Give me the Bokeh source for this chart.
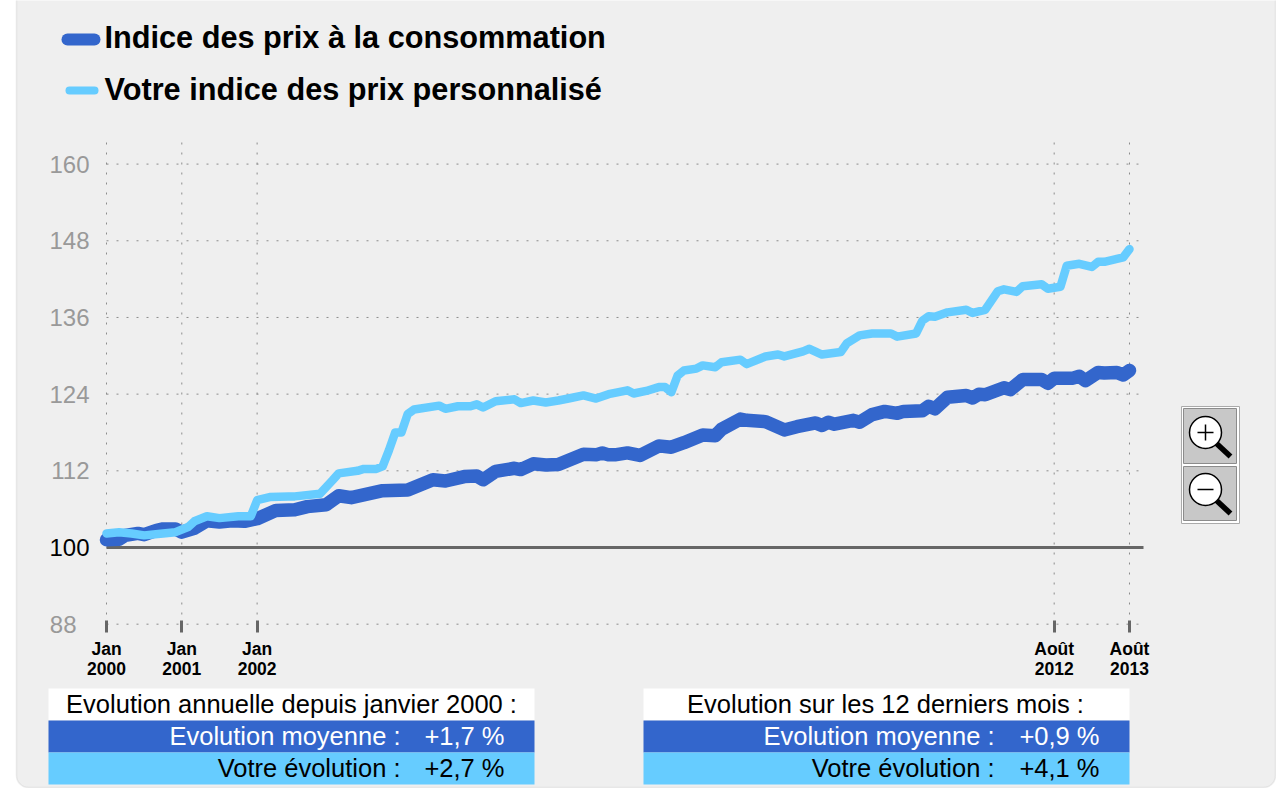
from bokeh.plotting import figure
from bokeh.models import Range1d, LinearAxis, FixedTicker, BoxAnnotation
from bokeh.core.properties import value
from bokeh.embed import file_html
from bokeh.resources import INLINE

# ---- data ----
cpi_months = [0,2,3,5,6,8,9,11,12,14,16,18,20,22,24,27,30,32,35,37,39,44,48,52,54,57,59,60,62,65,66,68,70,72,76,78,79,80,81,83,85,88,90,92,95,97,98,101,102,105,108,110,113,114,115,116,119,120,122,124,126,127,130,131,132,134,137,138,139,140,143,144,146,149,150,151,154,155,156,158,159,161,162,163]
cpi_values = [101.2,101.3,101.9,102.2,102.0,102.7,102.9,102.9,102.4,103.0,104.2,104.0,104.2,104.1,104.5,105.8,105.9,106.4,106.7,108.1,107.8,108.9,109.0,110.6,110.4,111.1,111.2,110.6,111.9,112.4,112.2,113.1,112.9,113.0,114.6,114.5,114.8,114.5,114.5,114.8,114.4,115.9,115.7,116.4,117.6,117.5,118.5,120.1,119.9,119.7,118.4,118.9,119.5,119.1,119.6,119.3,119.9,119.6,120.8,121.3,121.0,121.3,121.4,122.1,121.7,123.5,123.8,123.4,124.0,123.9,125.0,124.7,126.3,126.3,125.7,126.5,126.5,126.8,126.1,127.4,127.3,127.4,127.0,127.7]
own_months = [0,2,4,6,9,11,13,14,16,18,21,23,24,26,29,30,34,36,37,40,41,43,44,45,46,47,48,49,53,54,56,58,59,60,62,65,66,68,70,72,74,76,78,80,83,84,86,88,89,90,91,92,94,95,97,98,101,102,105,107,108,111,112,114,117,118,120,122,125,126,129,130,131,132,134,137,138,140,142,143,145,146,149,150,152,153,155,157,158,159,162,163]
own_values = [102.2,102.4,102.2,101.9,102.2,102.4,103.2,104.1,104.9,104.6,104.9,104.9,107.4,107.9,108.0,108.0,108.4,110.5,111.6,112.0,112.3,112.3,112.7,115.2,118.0,118.0,120.9,121.6,122.2,121.7,122.1,122.1,122.4,121.9,122.9,123.2,122.6,123.0,122.7,123.0,123.4,123.8,123.3,124.0,124.6,124.1,124.5,125.1,125.1,124.3,126.9,127.7,128.0,128.5,128.2,129.0,129.4,128.7,129.9,130.2,129.9,130.7,131.1,130.2,130.6,132.0,133.2,133.5,133.5,133.0,133.5,135.5,136.2,136.1,136.8,137.2,136.7,137.2,140.1,140.4,140.0,140.9,141.2,140.5,140.8,144.1,144.4,143.9,144.7,144.7,145.4,146.7]
cpi_name = "Indice des prix à la consommation"
own_name = "Votre indice des prix personnalisé"
x_ticks = [0, 12, 24, 151, 163]
x_tick_labels = ["Jan\n2000", "Jan\n2001", "Jan\n2002", "Août\n2012", "Août\n2013"]
y_ticks_grey = [112, 124, 136, 148, 160]
y_tick_base = [100]
y_tick_low = [88]
left_title = "Evolution annuelle depuis janvier 2000 :"
right_title = "Evolution sur les 12 derniers mois :"
row_mean = "Evolution moyenne :"
row_own = "Votre évolution :"
left_mean, left_own = "+1,7 %", "+2,7 %"
right_mean, right_own = "+0,9 %", "+4,1 %"

DARK, LIGHT = "#3366CC", "#66CCFF"
FONT = value("Liberation Sans")
GRID = "#8C8C8C"

# helpers: page pixel -> data units (decoration only)
def X(px): return (px - 106.0) / 6.276
def Y(py): return 100.0 + (547.0 - py) / 6.39

p = figure(width=1276, height=788, output_backend="svg", toolbar_location=None,
           x_range=Range1d(X(0), X(1276)), y_range=Range1d(Y(788), Y(0)),
           x_axis_type=None, y_axis_type=None, min_border=0,
           background_fill_color=None, border_fill_color="white", outline_line_color=None)

p.add_layout(BoxAnnotation(left=X(16), right=X(1275), top=Y(-20), bottom=Y(787), level="underlay",
                           fill_color="#EFEFEF", fill_alpha=1, line_color="#C4C4C4", line_width=1.5,
                           border_radius=12))

# dotted grid
grid_y = y_tick_low + y_tick_base + y_ticks_grey
p.segment([0] * len(grid_y), grid_y, [X(1141)] * len(grid_y), grid_y,
          line_color=GRID, line_dash="2 8", line_width=1)
p.segment(x_ticks, [Y(624)] * len(x_ticks), x_ticks, [Y(140)] * len(x_ticks),
          line_color=GRID, line_dash="2 8", line_width=1)

# base line
p.segment([0], y_tick_base, [X(1143)], y_tick_base, line_color="#666666", line_width=3)

# series
p.line(cpi_months, cpi_values, line_color=DARK, line_width=13.5, line_join="round", line_cap="round")
p.line(own_months, own_values, line_color=LIGHT, line_width=8.5, line_join="round", line_cap="round")

# axes placed at fixed locations
xa = LinearAxis(ticker=FixedTicker(ticks=x_ticks), fixed_location=Y(620),
                major_label_overrides=dict(zip(x_ticks, x_tick_labels)),
                axis_line_color=None, major_tick_in=0, major_tick_out=12,
                major_tick_line_color="#666666", major_tick_line_width=3, minor_tick_line_color=None,
                major_label_text_font="Liberation Sans", major_label_text_font_style="bold",
                major_label_text_font_size="17.5px", major_label_text_color="black",
                major_label_text_line_height=1.0, major_label_standoff=6)
p.add_layout(xa, "below")

def yaxis(ticks, color, at):
    a = LinearAxis(ticker=FixedTicker(ticks=ticks), fixed_location=X(at), axis_line_color=None,
                   major_tick_line_color=None, minor_tick_line_color=None, major_label_standoff=0,
                   major_label_text_font="Liberation Sans", major_label_text_font_size="24px",
                   major_label_text_line_height=1.4, major_label_text_color=color)
    p.add_layout(a, "left")

yaxis(y_ticks_grey, "#999999", 95)
yaxis(y_tick_base, "#000000", 95)
yaxis(y_tick_low, "#999999", 82)

# legend
p.segment([X(67)], [Y(39)], [X(94)], [Y(39)], line_color=DARK, line_width=12, line_cap="round")
p.segment([X(69)], [Y(90)], [X(94)], [Y(90)], line_color=LIGHT, line_width=8, line_cap="round")
p.text([X(104)], [Y(37)], text=[cpi_name], text_font=FONT, text_font_style="bold", text_font_size="30.7px",
       text_baseline="middle", text_color="black")
p.text([X(104)], [Y(89)], text=[own_name], text_font=FONT, text_font_style="bold", text_font_size="30.7px",
       text_baseline="middle", text_color="black")

# tables
rows = [(688, 720, "white"), (720, 752, DARK), (752, 784, LIGHT)]
for x0, title, tmid, label_end, val_end, mean, own in [
        (48, left_title, 291, 400, 504, left_mean, left_own),
        (643, right_title, 885, 994, 1099, right_mean, right_own)]:
    x1 = x0 + 486
    for top, bot, col in rows:
        p.quad(left=[X(x0)], right=[X(x1)], top=[Y(top)], bottom=[Y(bot)], fill_color=col, line_color=None)
    p.text([X(tmid)], [Y(703)], text=[title], text_font=FONT, text_font_size="25.5px", text_align="center",
           text_baseline="middle", text_color="black")
    for ty, lab, val, col in [(735, row_mean, mean, "white"), (767, row_own, own, "black")]:
        p.text([X(label_end)], [Y(ty)], text=[lab], text_font=FONT, text_font_size="25.5px", text_align="right",
               text_baseline="middle", text_color=col)
        p.text([X(val_end)], [Y(ty)], text=[val], text_font=FONT, text_font_size="25.5px", text_align="right",
               text_baseline="middle", text_color=col)

# zoom buttons
p.quad(left=[X(1181)], right=[X(1239)], top=[Y(406)], bottom=[Y(523)], fill_color="white", line_color="#AAAAAA")
for top, bot, cy, plus in [(408, 463, 432, True), (466, 520, 489, False)]:
    p.quad(left=[X(1183)], right=[X(1236)], top=[Y(top)], bottom=[Y(bot)], fill_color="#C8C8C8", line_color="#8C8C8C")
    p.segment([X(1216)], [Y(cy + 11)], [X(1230)], [Y(cy + 24)], line_color="black", line_width=5.5)
    p.scatter([X(1205)], [Y(cy)], size=32, marker="circle", fill_color="white", line_color="black", line_width=1.5)
    p.segment([X(1197)], [Y(cy)], [X(1213)], [Y(cy)], line_color="black", line_width=1.5)
    if plus:
        p.segment([X(1205)], [Y(cy - 8)], [X(1205)], [Y(cy + 8)], line_color="black", line_width=1.5)

open("out.html", "w").write(file_html(p, INLINE))
